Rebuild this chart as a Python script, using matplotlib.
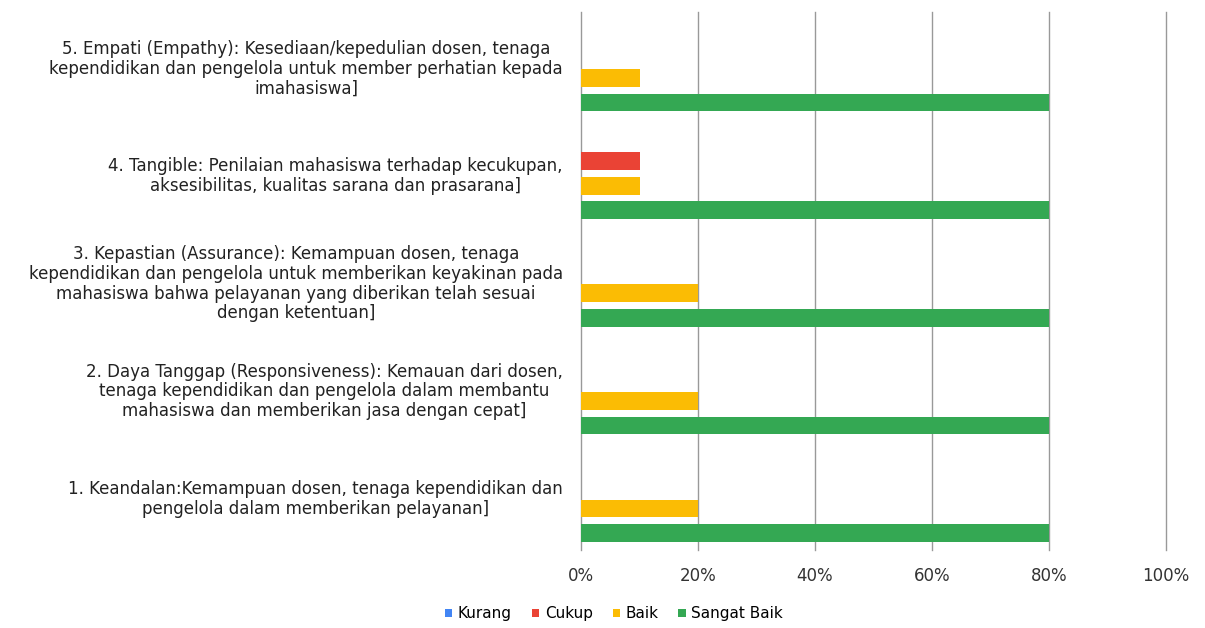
import matplotlib
matplotlib.use("Agg")
import matplotlib.pyplot as plt
import numpy as np

categories = [
    "1. Keandalan:Kemampuan dosen, tenaga kependidikan dan\npengelola dalam memberikan pelayanan]",
    "2. Daya Tanggap (Responsiveness): Kemauan dari dosen,\ntenaga kependidikan dan pengelola dalam membantu\nmahasiswa dan memberikan jasa dengan cepat]",
    "3. Kepastian (Assurance): Kemampuan dosen, tenaga\nkependidikan dan pengelola untuk memberikan keyakinan pada\nmahasiswa bahwa pelayanan yang diberikan telah sesuai\ndengan ketentuan]",
    "4. Tangible: Penilaian mahasiswa terhadap kecukupan,\naksesibilitas, kualitas sarana dan prasarana]",
    "5. Empati (Empathy): Kesediaan/kepedulian dosen, tenaga\nkependidikan dan pengelola untuk member perhatian kepada\nimahasiswa]",
]
series_names = ["Kurang", "Cukup", "Baik", "Sangat Baik"]
kurang = [0, 0, 0, 0, 0]
cukup = [0, 0, 0, 10, 0]
baik = [20, 20, 20, 10, 10]
sangat_baik = [80, 80, 80, 80, 80]
xticks = [0, 20, 40, 60, 80, 100]
xtick_labels = ["0%", "20%", "40%", "60%", "80%", "100%"]

colors = ["#4285F4", "#EA4335", "#FBBC04", "#34A853"]
values = [kurang, cukup, baik, sangat_baik]

fig = plt.figure(figsize=(12.05, 6.28), dpi=100)
ax = fig.add_axes([0.4822, 0.1242, 0.4855, 0.8567])

y = np.arange(len(categories))
step = 0.228
height = 0.165
offsets = [1.5 * step, 0.5 * step, -0.5 * step, -1.5 * step]
for name, vals, col, off in zip(series_names, values, colors, offsets):
    ax.barh(y + off, vals, height=height, color=col, label=name, zorder=3)

ax.set_xlim(0, 100)
ax.set_ylim(-0.5, 4.5)
ax.set_xticks(xticks)
ax.set_xticklabels(xtick_labels, fontsize=12, family="DejaVu Sans", color="#333333")
ax.set_yticks(y)
ax.set_yticklabels(categories, fontsize=12, family="DejaVu Sans", color="#222222",
                   multialignment="center", linespacing=1.12)
ax.tick_params(axis="both", length=0)
ax.tick_params(axis="y", pad=13)
ax.tick_params(axis="x", pad=12)
ax.grid(axis="x", color="#999999", linewidth=1.0, zorder=0)
ax.grid(axis="y", visible=False)
for gl in ax.get_xgridlines():
    gl.set_clip_on(False)
for s in ax.spines.values():
    s.set_visible(False)

fig.legend(loc="center", bbox_to_anchor=(0.5095, 0.0223), ncol=4, frameon=False,
           handlelength=0.5, handleheight=0.5, handletextpad=0.35,
           columnspacing=1.3, prop={"family": "DejaVu Sans", "size": 11})

fig.savefig("out.png", dpi=100, facecolor="white")
